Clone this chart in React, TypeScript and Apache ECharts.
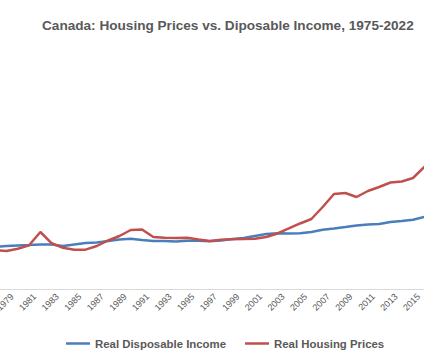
import React, { useEffect, useRef } from "react";
import * as echarts from "echarts";

const years = [
  1975, 1976, 1977, 1978, 1979, 1980, 1981, 1982, 1983, 1984,
  1985, 1986, 1987, 1988, 1989, 1990, 1991, 1992, 1993, 1994,
  1995, 1996, 1997, 1998, 1999, 2000, 2001, 2002, 2003, 2004,
  2005, 2006, 2007, 2008, 2009, 2010, 2011, 2012, 2013, 2014,
  2015, 2016, 2017, 2018, 2019, 2020, 2021, 2022,
];

const realDisposableIncome = [
  100, 102.5, 105, 107.5, 108.8, 110, 111.3, 111.3, 107.5, 111.3,
  115, 116.3, 120, 123.8, 125.5, 122.5, 120, 120, 118.8, 120.5,
  120.8, 119.5, 121.3, 125, 127.5, 132.5, 137.5, 139.3, 138.8, 139.3,
  142.5, 148, 151.3, 155, 158.8, 161.3, 162.5, 167.5, 170, 173,
  180, 182.5, 185, 186.3, 190, 205, 200, 192.5,
];

const realHousingPrices = [
  100, 98.8, 97.5, 95, 100.8, 109.3, 142.5, 114.3, 103, 98,
  98.3, 107.5, 121.3, 132.5, 147.5, 148.8, 130, 128, 127.5, 128.3,
  123.8, 120, 123, 124.3, 125, 125.5, 130, 138.8, 151.3, 163.8,
  175, 205, 237.5, 240, 230, 245, 255, 266.3, 268.8, 277.5,
  305, 335, 352.5, 347.5, 345, 362.5, 412.5, 402.5,
];

const seriesNames = ["Real Disposable Income", "Real Housing Prices"];
const titleText = "Canada: Housing Prices vs. Diposable Income, 1975-2022";

export default function App() {
  const ref = useRef<HTMLDivElement>(null);

  useEffect(() => {
    if (!ref.current) return;
    const chart = echarts.init(ref.current, null, { renderer: "svg" });
    const font = "'Liberation Sans', Arial, sans-serif";
    chart.setOption({
      animation: false,
      backgroundColor: "#ffffff",
      title: {
        text: titleText,
        left: 97,
        top: 13,
        textStyle: {
          fontFamily: font,
          fontWeight: "bold",
          fontSize: 13.6,
          color: "#595959",
        },
      },
      legend: {
        left: 121,
        top: 333,
        itemWidth: 24,
        itemHeight: 2.5,
        itemGap: 19,
        data: seriesNames.map((n) => ({ name: n, icon: "rect" })),
        textStyle: {
          fontFamily: font,
          fontWeight: "bold",
          fontSize: 11.4,
          color: "#595959",
        },
      },
      grid: { left: 27, right: 11, top: 89, bottom: 65 },
      xAxis: {
        type: "value",
        min: 1975,
        max: 2023,
        interval: 2,
        axisLine: { lineStyle: { color: "#d9d9d9", width: 1 } },
        axisTick: { show: false },
        splitLine: { show: false },
        axisLabel: {
          rotate: 45,
          fontFamily: font,
          fontSize: 9,
          color: "#595959",
          margin: 6,
          formatter: (v: number) => String(v),
        },
      },
      yAxis: { type: "value", min: 0, max: 500, show: false },
      series: [
        {
          name: seriesNames[0],
          type: "line",
          symbol: "none",
          data: years.map((y, i) => [y + 0.5, realDisposableIncome[i]]),
          lineStyle: { color: "#4a7ebb", width: 2.5 },
          itemStyle: { color: "#4a7ebb" },
        },
        {
          name: seriesNames[1],
          type: "line",
          symbol: "none",
          data: years.map((y, i) => [y + 0.5, realHousingPrices[i]]),
          lineStyle: { color: "#c0504d", width: 2.5 },
          itemStyle: { color: "#c0504d" },
        },
      ],
    });
    return () => chart.dispose();
  }, []);

  return (
    <div
      style={{
        position: "fixed",
        left: 0,
        top: 0,
        width: 424,
        height: 354,
        overflow: "hidden",
        background: "#ffffff",
      }}
    >
      <div
        ref={ref}
        style={{ position: "absolute", left: -60, top: 0, width: 580, height: 354 }}
      />
    </div>
  );
}
